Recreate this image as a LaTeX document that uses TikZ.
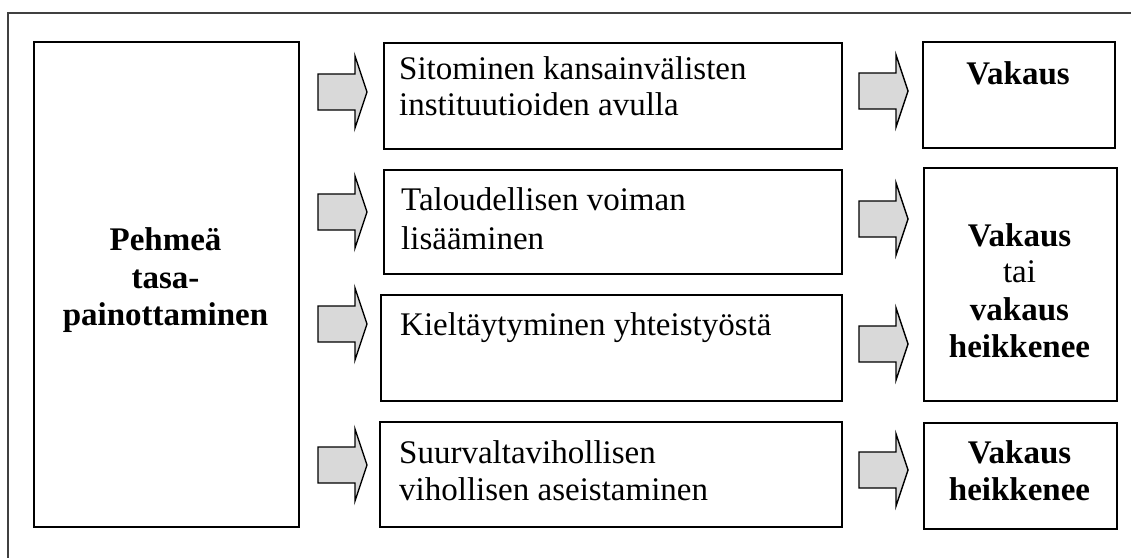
\documentclass[tikz,border=0pt]{standalone}
\usepackage{fontspec}
\setmainfont{Liberation Serif}
\begin{document}
\begin{tikzpicture}[x=1pt,y=-1pt,
  box/.style={draw=black, line width=1.8pt, inner sep=0pt, anchor=north west},
  frame/.style={draw=black!75, line width=1.6pt},
  txt/.style={anchor=base west, inner sep=0pt, font=\fontsize{33}{38}\selectfont},
  ctxt/.style={anchor=base, inner sep=0pt, font=\fontsize{33}{38}\selectfont},
  btxt/.style={anchor=base, inner sep=0pt, font=\fontsize{33}{38}\selectfont\bfseries},
  arrowbody/.style={draw=black, line width=1.4pt, fill=black!15, line join=miter},
  pics/blockarrow/.style={code={
    \draw[arrowbody] (0,-18) -- (37,-18) -- (37,-36) -- (49,0) -- (37,36) -- (37,18) -- (0,18) -- cycle;}}
]
\useasboundingbox (0,0) rectangle (1131,557);

% outer frame (top and left edges)
\draw[frame] (8,560) -- (8,13) -- (1135,13);

% boxes
\node[box, minimum width=265pt, minimum height=485pt] (L)  at (33,41)  {};
\node[box, minimum width=458pt, minimum height=106pt] (M1) at (383,42) {};
\node[box, minimum width=458pt, minimum height=104pt] (M2) at (383,169) {};
\node[box, minimum width=461pt, minimum height=106pt] (M3) at (380,294) {};
\node[box, minimum width=462pt, minimum height=105pt] (M4) at (379,421) {};
\node[box, minimum width=192pt, minimum height=106pt] (R1) at (922,41) {};
\node[box, minimum width=193pt, minimum height=233pt] (R2) at (923,167) {};
\node[box, minimum width=193pt, minimum height=106pt] (R3) at (923,422) {};

% block arrows
\pic at (318,92)  {blockarrow};
\pic at (318,212) {blockarrow};
\pic at (318,324) {blockarrow};
\pic at (318,465) {blockarrow};
\pic at (859,91)  {blockarrow};
\pic at (859,219) {blockarrow};
\pic at (859,344) {blockarrow};
\pic at (859,470) {blockarrow};

% left box text
\node[btxt] (l1) at (165.5,250) {Pehmeä};
\node[btxt] (l2) at (165.5,288) {tasa-};
\node[btxt] (l3) at (165.5,325) {painottaminen};

% middle column texts
\node[txt] (m1a) at (399,79)  {Sitominen kansainvälisten};
\node[txt] (m1b) at (399,115) {instituutioiden avulla};
\node[txt] (m2a) at (401,210) {Taloudellisen voiman};
\node[txt] (m2b) at (401,249) {lisääminen};
\node[txt] (m3a) at (400,335) {Kieltäytyminen yhteistyöstä};
\node[txt] (m4a) at (399,463) {Suurvaltavihollisen};
\node[txt] (m4b) at (399,500) {vihollisen aseistaminen};

% right column texts
\node[btxt] (r1a) at (1018,84)   {Vakaus};
\node[btxt] (r2a) at (1019.5,246) {Vakaus};
\node[ctxt] (r2b) at (1019.5,282) {tai};
\node[btxt] (r2c) at (1019.5,320) {vakaus};
\node[btxt] (r2d) at (1019.5,357) {heikkenee};
\node[btxt] (r3a) at (1019.5,463) {Vakaus};
\node[btxt] (r3b) at (1019.5,500) {heikkenee};
\end{tikzpicture}
\end{document}
